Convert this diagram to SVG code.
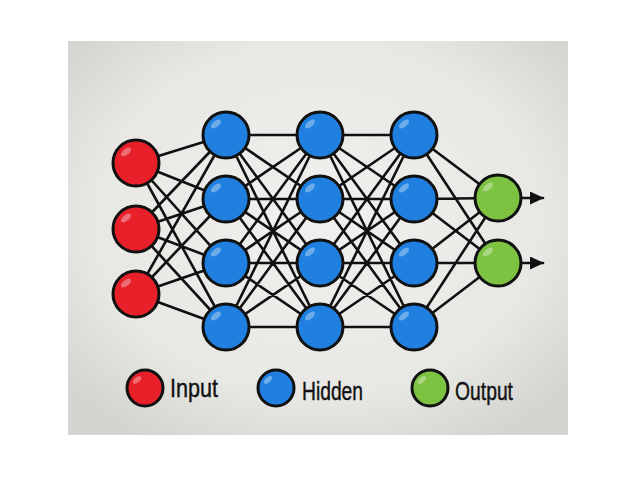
<svg xmlns="http://www.w3.org/2000/svg" width="640" height="480" viewBox="0 0 640 480">
<defs>
<radialGradient id="bg" cx="50%" cy="45%" r="65%">
<stop offset="0" stop-color="#f0f0ee"/>
<stop offset="0.7" stop-color="#e7e7e4"/>
<stop offset="1" stop-color="#d4d4d0"/>
</radialGradient>
<marker id="arr" viewBox="0 0 14 13" refX="13" refY="6.5" markerWidth="14" markerHeight="13" markerUnits="userSpaceOnUse" orient="auto">
<path d="M0,0 L14,6.5 L0,13 Z" fill="#111"/>
</marker>
</defs>
<style>
.n{stroke:#111;stroke-width:3}
.in{fill:#e8202a}
.hd{fill:#1f80e0}
.out{fill:#7dc241}
.hl{fill:#ffffff;opacity:0.35}
.e{stroke:#111;stroke-width:2.6;fill:none;stroke-linecap:round}
.lbl{font-family:"Liberation Sans",Arial,sans-serif;font-size:26px;fill:#111;stroke:#111;stroke-width:0.4}
</style>
<rect x="0" y="0" width="640" height="480" fill="#ffffff"/>
<rect x="68" y="41" width="500" height="394" fill="url(#bg)"/>
<g id="connectors">
<path class="e" d="M136,163L226,135M136,163L226,199M136,163L226,263M136,163L226,327M136,229L226,135M136,229L226,199M136,229L226,263M136,229L226,327M136,294L226,135M136,294L226,199M136,294L226,263M136,294L226,327"/>
<path class="e" d="M226,135L320,135M226,135L320,199M226,135L320,263M226,135L320,327M226,199L320,135M226,199L320,199M226,199L320,263M226,199L320,327M226,263L320,135M226,263L320,199M226,263L320,263M226,263L320,327M226,327L320,135M226,327L320,199M226,327L320,263M226,327L320,327"/>
<path class="e" d="M320,135L414,135M320,135L414,199M320,135L414,263M320,135L414,327M320,199L414,135M320,199L414,199M320,199L414,263M320,199L414,327M320,263L414,135M320,263L414,199M320,263L414,263M320,263L414,327M320,327L414,135M320,327L414,199M320,327L414,263M320,327L414,327"/>
<path class="e" d="M414,135L498,198M414,135L498,263M414,199L498,198M414,199L498,263M414,263L498,198M414,263L498,263M414,327L498,198M414,327L498,263"/>
<path class="e" d="M521,198L543,198" marker-end="url(#arr)"/>
<path class="e" d="M521,263L543,263" marker-end="url(#arr)"/>
</g>
<g id="input-1"><circle class="n in" cx="136" cy="163" r="23"/><ellipse class="hl" cx="126" cy="152" rx="6" ry="3" transform="rotate(-40 126 152)"/></g>
<g id="input-2"><circle class="n in" cx="136" cy="229" r="23"/><ellipse class="hl" cx="126" cy="218" rx="6" ry="3" transform="rotate(-40 126 218)"/></g>
<g id="input-3"><circle class="n in" cx="136" cy="294" r="23"/><ellipse class="hl" cx="126" cy="283" rx="6" ry="3" transform="rotate(-40 126 283)"/></g>
<g id="h1-1"><circle class="n hd" cx="226" cy="135" r="23"/><ellipse class="hl" cx="216" cy="124" rx="6" ry="3" transform="rotate(-40 216 124)"/></g>
<g id="h1-2"><circle class="n hd" cx="226" cy="199" r="23"/><ellipse class="hl" cx="216" cy="188" rx="6" ry="3" transform="rotate(-40 216 188)"/></g>
<g id="h1-3"><circle class="n hd" cx="226" cy="263" r="23"/><ellipse class="hl" cx="216" cy="252" rx="6" ry="3" transform="rotate(-40 216 252)"/></g>
<g id="h1-4"><circle class="n hd" cx="226" cy="327" r="23"/><ellipse class="hl" cx="216" cy="316" rx="6" ry="3" transform="rotate(-40 216 316)"/></g>
<g id="h2-1"><circle class="n hd" cx="320" cy="135" r="23"/><ellipse class="hl" cx="310" cy="124" rx="6" ry="3" transform="rotate(-40 310 124)"/></g>
<g id="h2-2"><circle class="n hd" cx="320" cy="199" r="23"/><ellipse class="hl" cx="310" cy="188" rx="6" ry="3" transform="rotate(-40 310 188)"/></g>
<g id="h2-3"><circle class="n hd" cx="320" cy="263" r="23"/><ellipse class="hl" cx="310" cy="252" rx="6" ry="3" transform="rotate(-40 310 252)"/></g>
<g id="h2-4"><circle class="n hd" cx="320" cy="327" r="23"/><ellipse class="hl" cx="310" cy="316" rx="6" ry="3" transform="rotate(-40 310 316)"/></g>
<g id="h3-1"><circle class="n hd" cx="414" cy="135" r="23"/><ellipse class="hl" cx="404" cy="124" rx="6" ry="3" transform="rotate(-40 404 124)"/></g>
<g id="h3-2"><circle class="n hd" cx="414" cy="199" r="23"/><ellipse class="hl" cx="404" cy="188" rx="6" ry="3" transform="rotate(-40 404 188)"/></g>
<g id="h3-3"><circle class="n hd" cx="414" cy="263" r="23"/><ellipse class="hl" cx="404" cy="252" rx="6" ry="3" transform="rotate(-40 404 252)"/></g>
<g id="h3-4"><circle class="n hd" cx="414" cy="327" r="23"/><ellipse class="hl" cx="404" cy="316" rx="6" ry="3" transform="rotate(-40 404 316)"/></g>
<g id="output-1"><circle class="n out" cx="498" cy="198" r="23"/><ellipse class="hl" cx="488" cy="187" rx="6" ry="3" transform="rotate(-40 488 187)"/></g>
<g id="output-2"><circle class="n out" cx="498" cy="263" r="23"/><ellipse class="hl" cx="488" cy="252" rx="6" ry="3" transform="rotate(-40 488 252)"/></g>
<g id="legend">
<g id="legend-input"><circle class="n in" cx="145" cy="388" r="18"/><ellipse class="hl" cx="137" cy="380" rx="5" ry="2.5" transform="rotate(-40 137 380)"/><text class="lbl" x="170" y="397" textLength="48" lengthAdjust="spacingAndGlyphs">Input</text></g>
<g id="legend-hidden"><circle class="n hd" cx="276" cy="388" r="18"/><ellipse class="hl" cx="268" cy="380" rx="5" ry="2.5" transform="rotate(-40 268 380)"/><text class="lbl" x="302" y="400" textLength="61" lengthAdjust="spacingAndGlyphs">Hidden</text></g>
<g id="legend-output"><circle class="n out" cx="430" cy="388" r="18"/><ellipse class="hl" cx="422" cy="380" rx="5" ry="2.5" transform="rotate(-40 422 380)"/><text class="lbl" x="455" y="400" textLength="58" lengthAdjust="spacingAndGlyphs">Output</text></g>
</g>
</svg>
